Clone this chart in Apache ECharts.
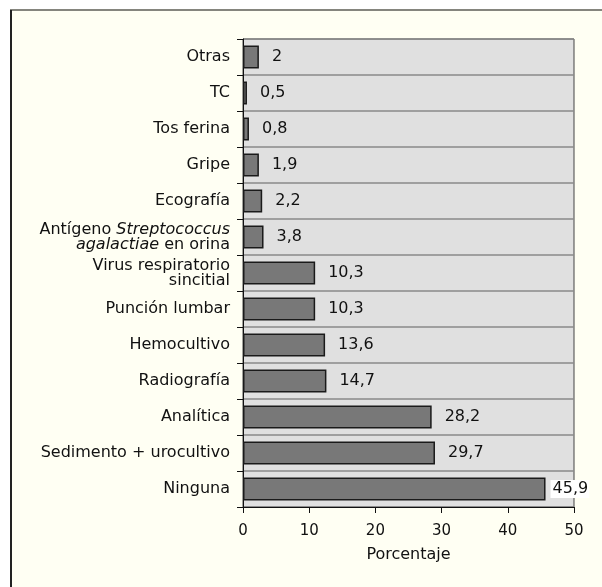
<!DOCTYPE html>
<html>
<head>
<meta charset="utf-8">
<script src="https://cdn.jsdelivr.net/npm/echarts@6/dist/echarts.min.js"></script>
<style>
  html, body { margin: 0; padding: 0; background: #fff; }
  #chart { width: 602px; height: 587px; }
</style>
</head>
<body>
<div id="chart"></div>
<script>
// categories, top to bottom
var categories = ['Otras', 'TC', 'Tos ferina', 'Gripe', 'Ecografía', 'Antígeno',
    'Virus', 'Punción lumbar', 'Hemocultivo', 'Radiografía', 'Analítica',
    'Sedimento + urocultivo', 'Ninguna'];
// bar lengths as drawn in the picture
var barValues = [2.4, 0.6, 0.9, 2.4, 2.9, 3.1, 10.9, 10.9, 12.4, 12.6, 28.5, 29.0, 45.7];
// printed value labels
var valueLabels = ['2', '0,5', '0,8', '1,9', '2,2', '3,8', '10,3', '10,3', '13,6', '14,7', '28,2', '29,7', '45,9'];
var xTicks = [0, 10, 20, 30, 40, 50];

var font = '"DejaVu Sans", sans-serif';

var myChart = echarts.init(document.getElementById('chart'));

var seriesData = barValues.map(function (v, i) {
    var item = { value: v, label: { formatter: valueLabels[i] } };
    if (i === barValues.length - 1) {
        item.label.distance = 5;
        item.label.backgroundColor = '#fff';
        item.label.padding = [1, 1, 1, 2];
    }
    return item;
});

var option = {
    backgroundColor: '#fff',
    animation: false,
    graphic: [
        { type: 'rect', shape: { x: 10, y: 10, width: 600, height: 590 },
          style: { fill: '#fffff3' }, z: -10 },
        { type: 'line', shape: { x1: 10, y1: 10, x2: 602, y2: 10 },
          style: { stroke: '#85857d', lineWidth: 2 }, z: -9 },
        { type: 'line', shape: { x1: 11, y1: 10, x2: 11, y2: 587 },
          style: { stroke: '#222', lineWidth: 2 }, z: -9 }
    ],
    grid: {
        left: 243, top: 39, width: 331, height: 468,
        show: true, backgroundColor: '#e0e0e0', borderColor: '#444', borderWidth: 1
    },
    xAxis: {
        type: 'value',
        min: 0, max: 50, interval: 10,
        name: 'Porcentaje',
        nameLocation: 'middle',
        nameGap: 40,
        nameTextStyle: { fontFamily: font, fontSize: 16, color: '#111' },
        axisLine: { show: true, lineStyle: { color: '#111', width: 1 } },
        axisTick: { show: true, length: 6, lineStyle: { color: '#111' } },
        axisLabel: { fontFamily: font, fontSize: 15, color: '#111', margin: 17,
            formatter: function (v) { return xTicks.indexOf(v) >= 0 ? String(v) : ''; } },
        splitLine: { show: false }
    },
    yAxis: {
        type: 'category',
        data: categories,
        inverse: true,
        axisLine: { show: true, lineStyle: { color: '#111', width: 1 } },
        axisTick: { show: true, length: 6, lineStyle: { color: '#111' } },
        splitLine: { show: true, lineStyle: { color: '#8a8a8a', width: 1.5 } },
        axisLabel: {
            fontFamily: font, fontSize: 16, color: '#111', margin: 13,
            lineHeight: 15, align: 'right',
            formatter: function (v) {
                if (v === 'Antígeno') return 'Antígeno {i|Streptococcus}\n{i|agalactiae} en orina';
                if (v === 'Virus') return 'Virus respiratorio\nsincitial';
                return v;
            },
            rich: {
                i: { fontStyle: 'italic', fontFamily: font, fontSize: 16, color: '#111', lineHeight: 15 }
            }
        }
    },
    series: [{
        type: 'bar',
        data: seriesData,
        barWidth: '64%',
        itemStyle: { color: '#787878', borderColor: '#1a1a1a', borderWidth: 1.5 },
        label: {
            show: true, position: 'right', distance: 13,
            fontFamily: font, fontSize: 16, color: '#111'
        }
    }]
};

myChart.setOption(option);
window.addEventListener('resize', function () {
    myChart.resize();
});
</script>
</body>
</html>
